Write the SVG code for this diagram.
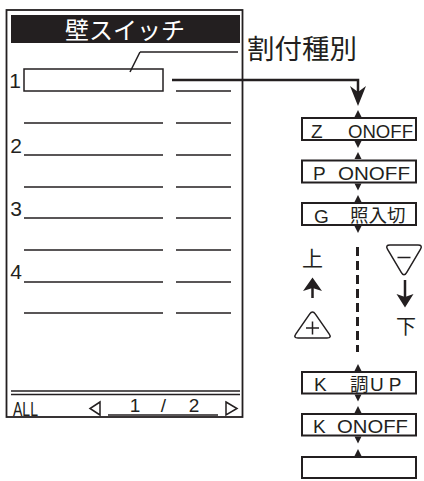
<svg xmlns="http://www.w3.org/2000/svg" width="424" height="481" viewBox="0 0 424 481">
<style>
.t{font-family:"Liberation Sans","Noto Sans CJK JP",sans-serif;fill:#231f20}
.j{font-family:"Noto Sans CJK JP","Liberation Sans",sans-serif;fill:#231f20}
.ln{stroke:#231f20;stroke-width:1.5;fill:none}
.bx{fill:#fff;stroke:#231f20;stroke-width:2}
.tri{fill:#231f20}
</style>
<defs>
<polygon id="up" class="tri" points="-3.5,7 3.5,7 0,0"/>
<polygon id="dn" class="tri" points="-3.5,0 3.5,0 0,7"/>
</defs>
<rect width="424" height="481" fill="#fff"/>
<g id="panel">
<rect x="6.5" y="10" width="236" height="407" fill="none" stroke="#231f20" stroke-width="1.8"/>
<rect x="11" y="15" width="229" height="28" fill="#231f20"/>
<text x="125" y="38.5" text-anchor="middle" class="j" style="fill:#fff" font-size="24">壁スイッチ</text>
<text x="21" y="88" text-anchor="end" class="t" font-size="21">1</text>
<text x="22" y="152.5" text-anchor="end" class="t" font-size="21">2</text>
<text x="22" y="215.5" text-anchor="end" class="t" font-size="21">3</text>
<text x="22" y="278.5" text-anchor="end" class="t" font-size="21">4</text>
<rect x="24" y="69" width="139" height="22" fill="#fff" stroke="#231f20" stroke-width="1.5"/>
<path class="ln" d="M24 123H163M24 155H163M24 187H163M24 218H163M24 250H163M24 282H163M24 313H163"/>
<path class="ln" d="M176 91H231M176 123H231M176 155H231M176 187H231M176 218H231M176 250H231M176 282H231M176 313H231"/>
<path class="ln" d="M11 391H240M11 394.5H240"/>
<text x="13" y="416" class="t" font-size="20" textLength="25" lengthAdjust="spacingAndGlyphs">ALL</text>
<polygon class="ln" points="100,402 90,408.5 100,415"/>
<polygon class="ln" points="226,402 237,408.5 226,415"/>
<text x="135" y="412" text-anchor="middle" class="t" font-size="19">1</text>
<text x="163.5" y="412" text-anchor="middle" class="t" font-size="19">/</text>
<text x="194" y="412" text-anchor="middle" class="t" font-size="19">2</text>
<path class="ln" d="M108 415H218"/>
</g>
<g id="label">
<text x="247" y="59" class="j" font-size="27.5">割付種別</text>
</g>
<g id="z">
<rect class="bx" x="302" y="118" width="114" height="22"/>
<text x="311" y="137.5" class="t" font-size="19">Z</text>
<text x="348" y="137.5" class="t" font-size="19" textLength="65" lengthAdjust="spacingAndGlyphs">ONOFF</text>
</g>
<g id="p">
<rect class="bx" x="302" y="160.5" width="114" height="22"/>
<text x="313" y="180" class="t" font-size="19">P</text>
<text x="338" y="180" class="t" font-size="19" textLength="72" lengthAdjust="spacingAndGlyphs">ONOFF</text>
</g>
<g id="g">
<rect class="bx" x="302" y="203" width="114" height="22"/>
<text x="314" y="222.5" class="t" font-size="19">G</text>
<text x="350" y="221.5" class="j" font-size="18.5">照入切</text>
</g>
<g id="kup">
<rect class="bx" x="302" y="372" width="114" height="21.5"/>
<text x="314" y="391" class="t" font-size="19">K</text>
<text x="350" y="390.5" class="j" font-size="18.5">調</text>
<text x="370" y="391" class="t" font-size="19" letter-spacing="5">UP</text>
</g>
<g id="kon">
<rect class="bx" x="302" y="414" width="114" height="21.5"/>
<text x="313" y="433" class="t" font-size="19">K</text>
<text x="337" y="433" class="t" font-size="19" textLength="71" lengthAdjust="spacingAndGlyphs">ONOFF</text>
</g>
<g id="empty">
<rect class="bx" x="302" y="457" width="114" height="21"/>
</g>
<g id="updown">
<text x="312.5" y="266" text-anchor="middle" class="j" font-size="21">上</text>
<path d="M312.5 288V298" stroke="#231f20" stroke-width="2.5"/>
<path class="tri" d="M303 291L312.5 277.5L322 291L312.5 288Z"/>
<path class="ln" d="M315.4 314.1L329.1 333.9Q332 338 327 338L298 338Q293 338 295.9 333.9L309.6 314.1Q312.5 310 315.4 314.1Z"/>
<path class="ln" d="M312.5 321.5V334.5M306 328H319"/>
<path class="ln" d="M390 245L418 245Q423 245 420.4 249.3L406.6 272.7Q404 277 401.4 272.7L387.6 249.3Q385 245 390 245Z"/>
<path class="ln" d="M397.5 257.5H410.5"/>
<path d="M405 280V297" stroke="#231f20" stroke-width="2.5"/>
<path class="tri" d="M396.5 294L405 297L413.5 294L405 307.5Z"/>
<text x="406" y="334" text-anchor="middle" class="j" font-size="20">下</text>
</g>
<g id="connectors">
<polyline points="140,52 130,72" class="ln"/>
<path class="ln" d="M140 52H238"/>
<path d="M172 80H358V92" fill="none" stroke="#231f20" stroke-width="2.5"/>
<path class="tri" d="M350 86L358 92L366 86L358 106Z"/>
<use href="#up" x="358" y="110"/>
<use href="#dn" x="358" y="141"/>
<use href="#up" x="358" y="152"/>
<use href="#dn" x="358" y="183.5"/>
<use href="#up" x="358" y="195"/>
<use href="#dn" x="358" y="226"/>
<path d="M357.5 247V352" stroke="#231f20" stroke-width="3" stroke-dasharray="9 5"/>
<use href="#up" x="358" y="364"/>
<use href="#dn" x="358" y="394.5"/>
<use href="#up" x="358" y="406"/>
<use href="#dn" x="358" y="436.5"/>
<use href="#up" x="358" y="449"/>
</g>
</svg>
